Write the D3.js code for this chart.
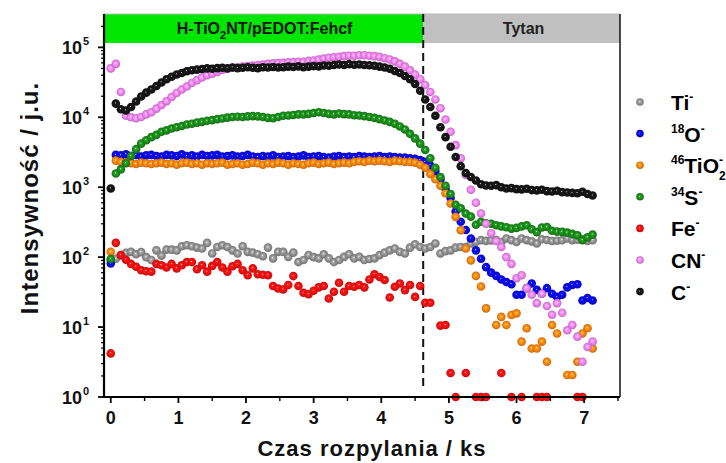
<!DOCTYPE html>
<html>
<head>
<meta charset="utf-8">
<script src="https://d3js.org/d3.v7.min.js"></script>
<style>
  body { margin: 0; background: #fff; }
  svg { display: block; font-family: "Liberation Sans", Arial, sans-serif; }
</style>
</head>
<body>
<div id="chart"></div>
<script>
// sputtering time grid (ks), one sample every 0.075 ks
const nSamples = 96;
const stepKs = 0.075;

// ion intensities (counts); null = no counts
const ti = [
  90, 95, 107, 115, 119, 110, 118, 100, 91, 125,
  105, 128, 128, 125, 143, 148, 143, 137, 133, 160,
  113, 140, 148, 140, 125, 113, 143, 119, 116, 110,
  103, 137, 96, 119, 119, 101, 116, 85, 91, 107,
  100, 96, 110, 96, 85, 91, 101, 110, 96, 101,
  91, 94, 96, 107, 116, 125, 133, 119, 113, 137,
  153, 140, 133, 140, 157, 113, 122, 125, 137, 140,
  140, 157, 165, 175, 171, 173, 175, 165, 185, 175,
  165, 185, 175, 168, 157, 180, 176, 170, 172, 175,
  185, 175, 178, 180, 170, 175
];
const o18 = [
  81, 2900, 2850, 2950, 2800, 2900, 2750, 2850, 2900, 2800,
  2750, 2900, 2850, 2800, 2950, 2800, 2850, 2750, 2900, 2800,
  2850, 2900, 2750, 2800, 2850, 2750, 2800, 2900, 2750, 2700,
  2800, 2750, 2850, 2700, 2750, 2800, 2700, 2750, 2850, 2700,
  2750, 2800, 2700, 2650, 2750, 2800, 2700, 2750, 2700, 2800,
  2750, 2700, 2750, 2800, 2700, 2750, 2700, 2650, 2650, 2600,
  2550, 2450, 2300, 2050, 1700, 1300, 950, 700, 450, 320,
  245, 185, 125, 95, 72, 60, 54, 48, 44, 41,
  29, 29, 36, 42, 34, 30, 36, 30, 27, 29,
  37, 40, 41, 24, 26, 24
];
const tio2 = [
  119, 2400, 2300, 2250, 2200, 2150, 2250, 2200, 2150, 2200,
  2250, 2150, 2200, 2100, 2200, 2250, 2150, 2200, 2100, 2200,
  2150, 2200, 2250, 2100, 2150, 2200, 2100, 2150, 2250, 2200,
  2100, 2200, 2150, 2250, 2200, 2100, 2200, 2150, 2100, 2200,
  2250, 2150, 2200, 2250, 2150, 2200, 2250, 2200, 2300, 2350,
  2300, 2400, 2350, 2400, 2350, 2300, 2400, 2350, 2300, 2300,
  2250, 2100, 1900, 1550, 1300, 1050, 820, 585, 377, 243,
  133, 90, 54, 38, 18.5, null, 10.7, 14, 10.7, 14.9,
  15.7, 6.2, 9.6, 4.95, 4.95, 6.2, 3.2, 10.7, 8.1, null,
  2.06, 2.06, 3.2, 8.1, 9.6, 4.95
];
const s34 = [
  94, 1570, 1800, 2200, 2800, 3500, 4200, 4700, 5200, 5600,
  6200, 6500, 6900, 7200, 7500, 7900, 8100, 8400, 8600, 8900,
  9100, 9400, 9600, 9900, 10100, 10200, 10100, 10300, 10400, 10300,
  10100, 9800, 9700, 10100, 10500, 10600, 10800, 11000, 11000, 11200,
  11500, 11800, 11500, 11200, 11000, 11300, 11100, 11000, 10700, 10600,
  10400, 10100, 9800, 9400, 9000, 8600, 8100, 7400, 6700, 5800,
  5000, 4200, 3400, 2600, 1900, 1400, 1050, 800, 560, 500,
  420, 380, 290, 320, 305, 300, 286, 275, 268, 256,
  262, 275, 286, 250, 228, 265, 270, 238, 232, 230,
  224, 215, 205, 175, 192, 210
];
const fe = [
  4.2, 160, 107, 92, 80, 73, 65, 63, 62, 80,
  76.6, 71, 80, 69, 76.6, 85, 85, 67, 76.6, 62,
  75, 85, 71, 62, 74, 80, 65, 55, 69, 57,
  56, 55, 38.6, 35.6, 34.5, 40, 53.6, 38.6, 31, 29.5,
  33, 37, 38.6, 25.6, 32, 43, 32, 38.6, 37.7, 40,
  37, 48, 57, 52, 47, 26.5, 37.7, 42, 33.8, 40,
  27, 38.6, 22.3, 22.3, null, 10.5, 10.7, 2.2, 1, null,
  2.2, null, 1, 1, 1, null, null, 2.2, null, 1,
  null, 1, null, null, 1, 1, 1, null, null, null,
  null, null, 1, 1, null, null
];
const cn = [
  50000, 58000, 23000, 10500, 10000, 9700, 10100, 11000, 11800, 13300,
  15000, 17000, 19500, 22200, 25000, 27500, 31000, 34000, 37000, 40000,
  42000, 44500, 47500, 49500, 51000, 52000, 53000, 54000, 55000, 56000,
  57000, 58000, 59000, 59500, 60000, 61000, 61500, 62000, 62000, 64000,
  65000, 67000, 69000, 71000, 72000, 73000, 75000, 76000, 76000, 77000,
  77000, 76000, 75000, 73000, 70000, 67000, 63000, 58000, 53000, 47000,
  41000, 35000, 29000, 23000, 18000, 13500, 9300, 6200, 4000, 2600,
  1500, 920, 600, 420, 300, 220, 170, 140, 100, 80,
  50, 55, 36, 29, 22, 30, 20, 15, 22, 16,
  9, 10.7, 7.3, 3.2, 5.2, 6.2
];
const c = [
  960, 15700, 13000, 12500, 14000, 16800, 19800, 22500, 25000, 28000,
  31500, 35000, 38000, 41000, 43000, 45500, 47000, 48000, 49000, 50000,
  49500, 50500, 51000, 50000, 51500, 50500, 51000, 52000, 51000, 50500,
  52000, 51500, 52500, 51500, 52000, 53000, 52500, 53500, 52000, 53000,
  54000, 53500, 55000, 54500, 56000, 57000, 56000, 57500, 56500, 57000,
  56000, 55500, 54500, 53000, 51500, 49500, 46000, 43000, 39000, 35000,
  30000, 24000, 18000, 14000, 10500, 7200, 5200, 3800, 2700, 2000,
  1600, 1400, 1250, 1100, 1060, 1050, 1070, 1000, 960, 970,
  940, 930, 950, 910, 900, 920, 880, 870, 890, 850,
  840, 830, 820, 860, 800, 760
];

const seriesValues = [ti, o18, tio2, s34, fe, cn, c];
const seriesColors = ['#8f8f8f', '#0a0ae6', '#f7830f', '#1c8a1c', '#f01010', '#ee82ee', '#151515'];
// legend labels as [text, kind] pieces
const seriesLabels = [
  [['Ti', ''], ['-', 'sup']],
  [['18', 'sup'], ['O', ''], ['-', 'sup']],
  [['46', 'sup'], ['TiO', ''], ['-', 'sup'], ['2', 'sub']],
  [['34', 'sup'], ['S', ''], ['-', 'sup']],
  [['Fe', ''], ['-', 'sup']],
  [['CN', ''], ['-', 'sup']],
  [['C', ''], ['-', 'sup']]
];

const xTicks = [0, 1, 2, 3, 4, 5, 6, 7];
const yExponents = [0, 1, 2, 3, 4, 5];
const interfaceKs = 4.62;
const regionLabels = ['H-TiO', '2', 'NT/pEDOT:Fehcf', 'Tytan'];

const width = 726, height = 463;
const pL = 104, pR = 620, pT = 14, pB = 397, bandH = 29;

const svg = d3.select('#chart').append('svg').attr('width', width).attr('height', height);

const x = d3.scaleLinear().domain([-0.1, 7.53]).range([pL, pR]);
const y = d3.scaleLog().domain([1, 3e5]).range([pB, pT]);

// sphere-like marker gradients
const defs = svg.append('defs');
seriesColors.forEach((col, i) => {
  const g = defs.append('radialGradient').attr('id', 'ball' + i)
    .attr('cx', '50%').attr('cy', '50%').attr('r', '55%').attr('fx', '45%').attr('fy', '42%');
  g.append('stop').attr('offset', '0%').attr('stop-color', '#ffffff');
  g.append('stop').attr('offset', '18%').attr('stop-color', d3.color(col).brighter(0.6));
  g.append('stop').attr('offset', '55%').attr('stop-color', col);
  g.append('stop').attr('offset', '100%').attr('stop-color', d3.color(col).darker(0.8));
});

// region bands
const bands = svg.append('g');
bands.append('rect').attr('x', pL).attr('y', pT).attr('width', x(interfaceKs) - pL).attr('height', bandH).attr('fill', '#00e600');
bands.append('rect').attr('x', x(interfaceKs)).attr('y', pT).attr('width', pR - x(interfaceKs)).attr('height', bandH).attr('fill', '#c0c0c0');
const bandText = bands.append('text')
  .attr('x', (pL + x(interfaceKs)) / 2 + 1).attr('y', pT + 20)
  .attr('text-anchor', 'middle').attr('font-size', '16px').attr('font-weight', 'bold').attr('fill', '#111');
bandText.append('tspan').text(regionLabels[0]);
bandText.append('tspan').attr('dy', 5).attr('font-size', '11px').text(regionLabels[1]);
bandText.append('tspan').attr('dy', -5).text(regionLabels[2]);
bands.append('text')
  .attr('x', (x(interfaceKs) + pR) / 2 + 2).attr('y', pT + 20)
  .attr('text-anchor', 'middle').attr('font-size', '16px').attr('font-weight', 'bold').attr('fill', '#222')
  .text(regionLabels[3]);

// frame
svg.append('line').attr('x1', pL).attr('x2', pR).attr('y1', pT).attr('y2', pT).attr('stroke', '#bbb').attr('stroke-width', 1);
svg.append('line').attr('x1', pR).attr('x2', pR).attr('y1', pT).attr('y2', pB).attr('stroke', '#111').attr('stroke-width', 1.5);

// interface line
svg.append('line')
  .attr('x1', x(interfaceKs)).attr('x2', x(interfaceKs)).attr('y1', pT).attr('y2', pB - 10)
  .attr('stroke', '#111').attr('stroke-width', 2).attr('stroke-dasharray', '8,5');

// data points, legend order = drawing order
const pts = svg.append('g');
seriesValues.forEach((vals, si) => {
  const data = vals.map((v, i) => ({t: i * stepKs, v})).filter(d => d.v != null && d.v > 0);
  pts.append('g').selectAll('circle').data(data).join('circle')
    .attr('cx', d => x(d.t)).attr('cy', d => y(d.v)).attr('r', 4.3)
    .attr('fill', `url(#ball${si})`);
});

// y axis
const yAxis = svg.append('g');
yAxis.append('line').attr('x1', pL).attr('x2', pL).attr('y1', pT).attr('y2', pB + 1).attr('stroke', '#000').attr('stroke-width', 2.2);
const minorY = [];
for (let e = 0; e <= 5; e++) for (let m = 2; m <= 9; m++) { const v = m * Math.pow(10, e); if (v < 3e5) minorY.push(v); }
yAxis.selectAll('.ymin').data(minorY).join('line')
  .attr('x1', pL - 3).attr('x2', pL).attr('y1', d => y(d)).attr('y2', d => y(d)).attr('stroke', '#000').attr('stroke-width', 1.2);
yAxis.selectAll('.ymaj').data(yExponents).join('line')
  .attr('x1', pL - 6).attr('x2', pL).attr('y1', d => y(Math.pow(10, d))).attr('y2', d => y(Math.pow(10, d))).attr('stroke', '#000').attr('stroke-width', 1.8);
const yl = yAxis.selectAll('.ylab').data(yExponents).join('text')
  .attr('x', pL - 22).attr('y', d => y(Math.pow(10, d)) + 7)
  .attr('text-anchor', 'end').attr('font-size', '18px').attr('font-weight', 'bold').attr('fill', '#111');
yl.append('tspan').text('10');
yl.append('tspan').attr('x', pL - 21).attr('dy', -9).attr('text-anchor', 'start').attr('font-size', '11px').text(d => d);

// x axis
const xAxis = svg.append('g');
xAxis.append('line').attr('x1', pL - 1).attr('x2', pR).attr('y1', pB).attr('y2', pB).attr('stroke', '#000').attr('stroke-width', 2.2);
const minorX = xTicks.map(d => d + 0.5);
xAxis.selectAll('.xmin').data(minorX).join('line')
  .attr('x1', d => x(d)).attr('x2', d => x(d)).attr('y1', pB).attr('y2', pB + 4).attr('stroke', '#000').attr('stroke-width', 1.4);
xAxis.selectAll('.xmaj').data(xTicks).join('line')
  .attr('x1', d => x(d)).attr('x2', d => x(d)).attr('y1', pB).attr('y2', pB + 6).attr('stroke', '#000').attr('stroke-width', 1.8);
xAxis.selectAll('.xlab').data(xTicks).join('text')
  .attr('x', d => x(d)).attr('y', pB + 27)
  .attr('text-anchor', 'middle').attr('font-size', '18px').attr('font-weight', 'bold').attr('fill', '#111')
  .text(d => d);

// axis titles
svg.append('text')
  .attr('x', (pL + pR) / 2 + 10).attr('y', 456)
  .attr('text-anchor', 'middle').attr('font-size', '22px').attr('font-weight', 'bold').attr('fill', '#111')
  .attr('letter-spacing', '1px')
  .text('Czas rozpylania / ks');
svg.append('text')
  .attr('transform', 'translate(38,198) rotate(-90)')
  .attr('text-anchor', 'middle').attr('font-size', '24px').attr('font-weight', 'bold').attr('fill', '#111')
  .attr('letter-spacing', '1px')
  .text('Intensywność / j.u.');

// legend
const legend = svg.append('g');
seriesLabels.forEach((parts, i) => {
  const ly = 102 + i * 31.6;
  legend.append('circle').attr('cx', 640).attr('cy', ly).attr('r', 3.8).attr('fill', `url(#ball${i})`);
  const txt = legend.append('text').attr('x', 671).attr('y', ly + 8)
    .attr('font-size', '21px').attr('font-weight', 'bold').attr('fill', '#000');
  let cur = 0;
  parts.forEach(([t, kind]) => {
    const off = kind === 'sup' ? -9 : kind === 'sub' ? 7 : 0;
    const ts = txt.append('tspan').attr('dy', off - cur).text(t);
    if (kind) ts.attr('font-size', '12px');
    if (kind === 'sub') ts.attr('dx', -4);
    cur = off;
  });
});
</script>
</body>
</html>
